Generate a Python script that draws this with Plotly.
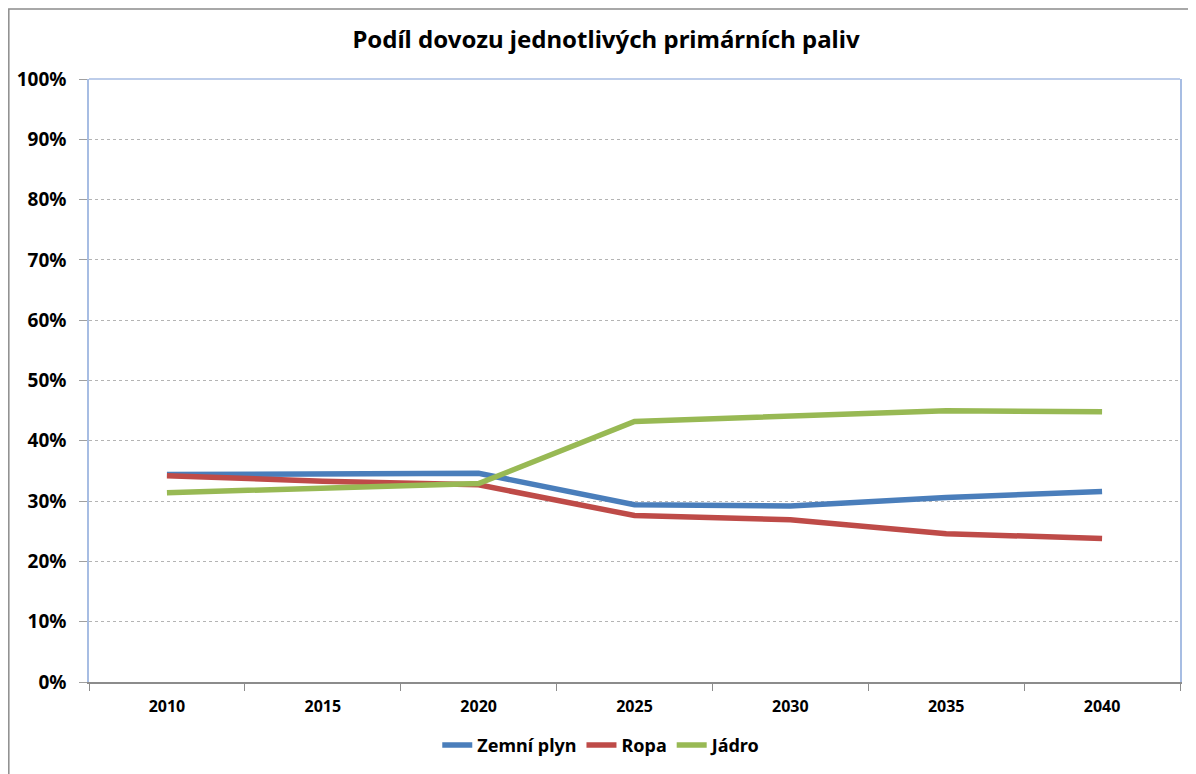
import plotly.graph_objects as go

# Data
YEARS = ["2010", "2015", "2020", "2025", "2030", "2035", "2040"]
ZEMNI_PLYN = [0.344, 0.345, 0.346, 0.294, 0.292, 0.306, 0.316]
ROPA = [0.342, 0.333, 0.327, 0.276, 0.269, 0.246, 0.238]
JADRO = [0.314, 0.322, 0.329, 0.432, 0.440, 0.450, 0.448]

BLUE = "#4A7EBB"
RED = "#BE4B48"
GREEN = "#98B954"
FRAME = "#A7BDE3"
GRID = "#B4B4B4"
FONT = "Noto Sans"

fig = go.Figure()
for name, vals, color in [
    ("Zemní plyn", ZEMNI_PLYN, BLUE),
    ("Ropa", ROPA, RED),
    ("Jádro", JADRO, GREEN),
]:
    fig.add_trace(go.Scatter(
        x=YEARS, y=vals, name=name, mode="lines",
        line=dict(color=color, width=5.5),
    ))

# the page body adds an 8px offset, margins compensate for it
fig.update_layout(
    width=1196, height=774,
    margin=dict(l=81, r=24, t=71, b=100, autoexpand=False),
    paper_bgcolor="white", plot_bgcolor="white",
    font=dict(family=FONT, color="black"),
    title=dict(
        text="<b>Podíl dovozu jednotlivých primárních paliv</b>",
        font=dict(size=24, family=FONT), x=0.5, xanchor="center",
        y=0.959, yanchor="middle",
    ),
    showlegend=True,
    legend=dict(
        orientation="h", x=0.47, xanchor="center", y=-0.105, yanchor="middle",
        font=dict(size=18, family=FONT, weight="bold"), itemwidth=30,
        traceorder="normal",
    ),
    shapes=[
        # outer chart border
        dict(type="rect", xref="paper", yref="paper",
             x0=-0.0735, y0=-0.2, x1=1.05, y1=1.116,
             line=dict(color="#8C8C8C", width=1.5), layer="below"),
        # top border of plot area
        dict(type="line", xref="paper", yref="paper",
             x0=0, y0=1, x1=1, y1=1,
             line=dict(color=FRAME, width=1.5)),
    ],
)

fig.update_xaxes(
    type="category", range=[-0.5, 6.5], automargin=False,
    showline=True, linecolor="#8C8C8C", linewidth=1.5,
    ticks="outside", tickson="boundaries", ticklen=7, tickcolor="#8C8C8C",
    tickfont=dict(size=16, family=FONT, weight="bold"), ticklabelstandoff=9,
    showgrid=False,
)
fig.update_yaxes(
    range=[0, 1], dtick=0.1, tickformat=".0%", automargin=False,
    showline=True, linecolor=FRAME, linewidth=1.5, mirror=True,
    ticks="outside", ticklen=8, tickcolor="#A0A0A0",
    tickfont=dict(size=19, family=FONT, weight="bold"), ticklabelstandoff=9,
    showgrid=True, gridcolor=GRID, griddash="dot", gridwidth=1,
    zeroline=False,
)

fig.write_html("out.html")
